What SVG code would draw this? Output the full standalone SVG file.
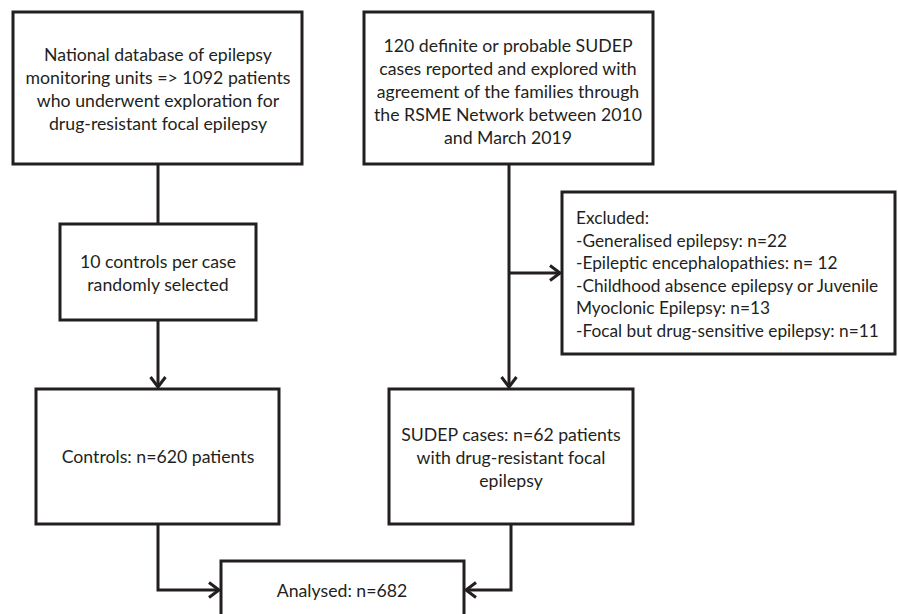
<svg xmlns="http://www.w3.org/2000/svg" width="898" height="614" viewBox="0 0 898 614">
<defs>
<style>
.box{fill:#fff;stroke:#231f20;stroke-width:3}
.t{font-family:Lato,"Liberation Sans",sans-serif;font-size:17.7px;fill:#231f20}
.s{font-size:17.3px}
.c{text-anchor:middle}
.ln{fill:none;stroke:#231f20;stroke-width:3}
</style>
<marker id="ah" markerWidth="16" markerHeight="20" refX="12" refY="9" orient="auto" markerUnits="userSpaceOnUse">
<path d="M2,1.5 L12,9 L2,16.5" fill="none" stroke="#231f20" stroke-width="3"/>
</marker>
</defs>
<rect width="898" height="614" fill="#fff"/>
<g id="connectors">
<path class="ln" d="M158,164 V224"/>
<path class="ln" d="M158,320 V387" marker-end="url(#ah)"/>
<path class="ln" d="M509,164 V387" marker-end="url(#ah)"/>
<path class="ln" d="M509,273 H560" marker-end="url(#ah)"/>
<path class="ln" d="M158,524 V590 H219" marker-end="url(#ah)"/>
<path class="ln" d="M511,524 V590 H466" marker-end="url(#ah)"/>
</g>
<g id="n-national">
<rect class="box" x="13" y="12" width="289" height="152"/>
<text class="t c" x="158" y="61">National database of epilepsy</text>
<text class="t c" x="158" y="84">monitoring units =&gt; 1092 patients</text>
<text class="t c" x="158" y="107">who underwent exploration for</text>
<text class="t c" x="158" y="130">drug-resistant focal epilepsy</text>
</g>
<g id="n-sudep120">
<rect class="box" x="364" y="12" width="289" height="152"/>
<text class="t c" x="508" y="52">120 definite or probable SUDEP</text>
<text class="t c" x="508" y="75">cases reported and explored with</text>
<text class="t c" x="508" y="98">agreement of the families through</text>
<text class="t c" x="508" y="121">the RSME Network between 2010</text>
<text class="t c" x="508" y="144">and March 2019</text>
</g>
<g id="n-random">
<rect class="box" x="60" y="224" width="196" height="96"/>
<text class="t c" x="158" y="268">10 controls per case</text>
<text class="t c" x="158" y="291">randomly selected</text>
</g>
<g id="n-excluded">
<rect class="box" x="562" y="192" width="333" height="162"/>
<text class="t s" x="576" y="224">Excluded:</text>
<text class="t s" x="576" y="246.5">-Generalised epilepsy: n=22</text>
<text class="t s" x="576" y="269">-Epileptic encephalopathies: n= 12</text>
<text class="t s" x="576" y="291.5">-Childhood absence epilepsy or Juvenile</text>
<text class="t s" x="576" y="314">Myoclonic Epilepsy: n=13</text>
<text class="t s" x="576" y="336.5">-Focal but drug-sensitive epilepsy: n=11</text>
</g>
<g id="n-controls">
<rect class="box" x="36" y="389" width="243" height="135"/>
<text class="t c" x="158" y="463">Controls: n=620 patients</text>
</g>
<g id="n-cases">
<rect class="box" x="389" y="389" width="244" height="135"/>
<text class="t c" x="511" y="441">SUDEP cases: n=62 patients</text>
<text class="t c" x="511" y="464">with drug-resistant focal</text>
<text class="t c" x="511" y="487">epilepsy</text>
</g>
<g id="n-analysed">
<rect class="box" x="221" y="561" width="243" height="60"/>
<text class="t c" x="342" y="597">Analysed: n=682</text>
</g>
</svg>
